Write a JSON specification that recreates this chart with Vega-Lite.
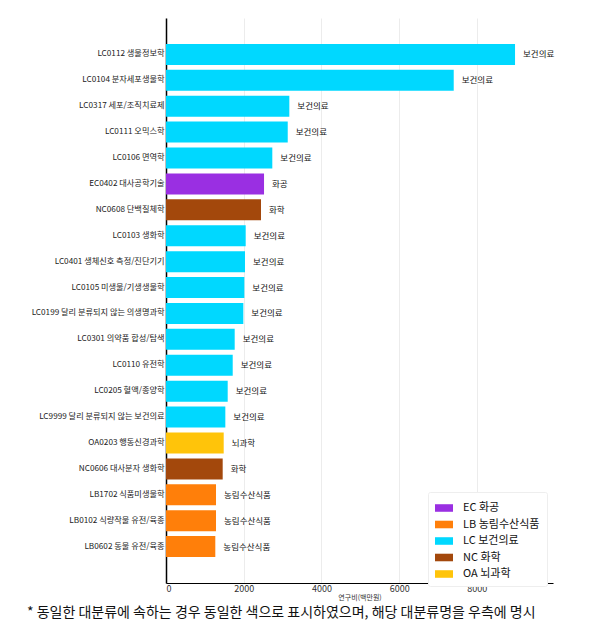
{
  "$schema": "https://vega.github.io/schema/vega-lite/v6.json",
  "autosize": {"type": "none"},
  "width": 387,
  "height": 565,
  "padding": {"left": 166, "top": 18, "right": 57, "bottom": 42},
  "background": "white",
  "config": {
    "font": "Noto Sans CJK KR",
    "view": {"stroke": null}
  },
  "title": {
    "text": "* 동일한 대분류에 속하는 경우 동일한 색으로 표시하였으며, 해당 대분류명을 우측에 명시",
    "orient": "bottom",
    "anchor": "start",
    "frame": "group",
    "dx": -139,
    "offset": 6,
    "fontSize": 14,
    "fontWeight": "normal",
    "color": "#111"
  },
  "data": {
    "values": [
      {"세부분류": "LC0112 생물정보학", "연구비": 8983, "분류": "LC 보건의료", "대분류": "보건의료"},
      {"세부분류": "LC0104 분자세포생물학", "연구비": 7405, "분류": "LC 보건의료", "대분류": "보건의료"},
      {"세부분류": "LC0317 세포/조직치료제", "연구비": 3174, "분류": "LC 보건의료", "대분류": "보건의료"},
      {"세부분류": "LC0111 오믹스학", "연구비": 3133, "분류": "LC 보건의료", "대분류": "보건의료"},
      {"세부분류": "LC0106 면역학", "연구비": 2736, "분류": "LC 보건의료", "대분류": "보건의료"},
      {"세부분류": "EC0402 대사공학기술", "연구비": 2523, "분류": "EC 화공", "대분류": "화공"},
      {"세부분류": "NC0608 단백질체학", "연구비": 2445, "분류": "NC 화학", "대분류": "화학"},
      {"세부분류": "LC0103 생화학", "연구비": 2051, "분류": "LC 보건의료", "대분류": "보건의료"},
      {"세부분류": "LC0401 생체신호 측정/진단기기", "연구비": 2033, "분류": "LC 보건의료", "대분류": "보건의료"},
      {"세부분류": "LC0105 미생물/기생생물학", "연구비": 2016, "분류": "LC 보건의료", "대분류": "보건의료"},
      {"세부분류": "LC0199 달리 분류되지 않는 의생명과학", "연구비": 1990, "분류": "LC 보건의료", "대분류": "보건의료"},
      {"세부분류": "LC0301 의약품 합성/탐색", "연구비": 1768, "분류": "LC 보건의료", "대분류": "보건의료"},
      {"세부분류": "LC0110 유전학", "연구비": 1717, "분류": "LC 보건의료", "대분류": "보건의료"},
      {"세부분류": "LC0205 혈액/종양학", "연구비": 1588, "분류": "LC 보건의료", "대분류": "보건의료"},
      {"세부분류": "LC9999 달리 분류되지 않는 보건의료", "연구비": 1527, "분류": "LC 보건의료", "대분류": "보건의료"},
      {"세부분류": "OA0203 행동신경과학", "연구비": 1485, "분류": "OA 뇌과학", "대분류": "뇌과학"},
      {"세부분류": "NC0606 대사분자 생화학", "연구비": 1459, "분류": "NC 화학", "대분류": "화학"},
      {"세부분류": "LB1702 식품미생물학", "연구비": 1287, "분류": "LB 농림수산식품", "대분류": "농림수산식품"},
      {"세부분류": "LB0102 식량작물 유전/육종", "연구비": 1287, "분류": "LB 농림수산식품", "대분류": "농림수산식품"},
      {"세부분류": "LB0602 동물 유전/육종", "연구비": 1269, "분류": "LB 농림수산식품", "대분류": "농림수산식품"}
    ]
  },
  "encoding": {
    "y": {
      "field": "세부분류",
      "type": "nominal",
      "sort": null,
      "scale": {"paddingInner": 0.19, "paddingOuter": 1.0},
      "axis": {
        "title": null,
        "ticks": false,
        "labelPadding": 2,
        "labelFontSize": 8.2,
        "labelColor": "#222",
        "domainColor": "#000",
        "domainWidth": 1.5,
        "labelLimit": 200
      }
    },
    "x": {
      "field": "연구비",
      "type": "quantitative",
      "scale": {"domain": [0, 9960], "nice": false},
      "axis": {
        "title": "연구비(백만원)",
        "titleFontSize": 7,
        "titleFontWeight": "normal",
        "titleColor": "#333",
        "titlePadding": 0,
        "values": [0, 2000, 4000, 6000, 8000],
        "format": "d",
        "ticks": false,
        "labelPadding": 1,
        "labelFontSize": 9,
        "labelColor": "#333",
        "domainColor": "#000",
        "domainWidth": 1.2,
        "gridColor": "#ececec",
        "gridWidth": 1
      }
    }
  },
  "layer": [
    {
      "mark": {"type": "bar"},
      "encoding": {
        "color": {
          "field": "분류",
          "type": "nominal",
          "scale": {
            "domain": ["EC 화공", "LB 농림수산식품", "LC 보건의료", "NC 화학", "OA 뇌과학"],
            "range": ["#9a2fe2", "#ff7f0a", "#00d8ff", "#a3480c", "#ffc40a"]
          },
          "legend": {
            "title": null,
            "orient": "none",
            "legendX": 262,
            "legendY": 474,
            "symbolType": "M-1,-0.42H1V0.42H-1Z",
            "symbolSize": 324,
            "symbolStrokeWidth": 0,
            "labelFontSize": 11,
            "labelColor": "#111",
            "labelOffset": 10,
            "rowPadding": 2.5,
            "padding": 7,
            "strokeColor": "#eeeeee",
            "fillColor": "white",
            "cornerRadius": 2
          }
        }
      }
    },
    {
      "mark": {"type": "text", "align": "left", "baseline": "middle", "dx": 8, "fontSize": 8.5, "color": "#111"},
      "encoding": {
        "text": {"field": "대분류"}
      }
    }
  ]
}
